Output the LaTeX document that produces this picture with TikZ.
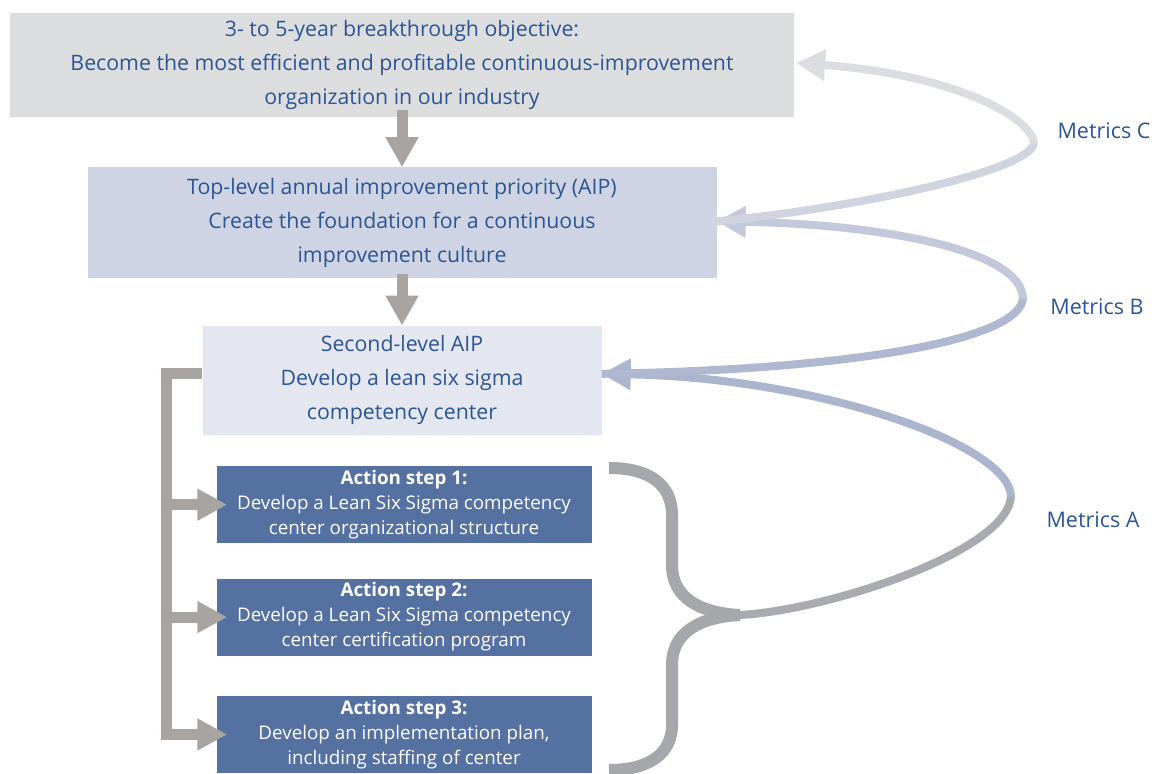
\documentclass[tikz,border=0pt]{standalone}
\usepackage{fontspec}
\setmainfont{Open Sans}
\usetikzlibrary{calc}
\usetikzlibrary{positioning}
\usetikzlibrary{arrows.meta}

\definecolor{txtblue}{HTML}{2B5593}
\definecolor{objfill}{HTML}{DCDDDF}
\definecolor{aipfill}{HTML}{CED4E4}
\definecolor{secfill}{HTML}{E4E7F0}
\definecolor{actfill}{HTML}{5471A1}
\definecolor{arrowgray}{HTML}{A7A4A1}
\definecolor{bracegray}{HTML}{A6A7AB}
\definecolor{mcup}{HTML}{DCDDE1}
\definecolor{mclow}{HTML}{D0D4DF}
\definecolor{mbup}{HTML}{C3C9DA}
\definecolor{mblow}{HTML}{AFB8D0}
\definecolor{maup}{HTML}{ABB5CE}
\definecolor{malow}{HTML}{A9ABB1}

\tikzset{every picture/.style={/utils/exec={\fontsize{21.3}{34}\selectfont}}}

\begin{document}
\begin{tikzpicture}[x=1pt, y=-1pt,
  levelbox/.style={inner sep=0pt, align=center, text=txtblue},
  actbox/.style={inner sep=0pt, align=center, text=white, fill=actfill,
    minimum width=375pt, minimum height=77pt, font=\fontsize{18.8}{25}\selectfont},
  downarrow/.style={line width=11pt, draw=arrowgray, -{Triangle[length=30pt,width=31pt]}},
  stemline/.style={line width=11pt, draw=arrowgray, line join=miter},
  metric/.style={line width=8pt},
  metrictip/.style={-{Triangle[length=29pt,width=30pt]}},
  metriclabel/.style={text=txtblue, font=\fontsize{21.5}{26}\selectfont}
  ]
  \useasboundingbox (0,0) rectangle (1157,774);

  % the three levels
  \node [levelbox, fill=objfill, minimum width=784pt, minimum height=104pt] (obj) at (402,65)
    {3- to 5-year breakthrough objective:\\ Become the most efficient and profitable continuous-improvement\\ organization in our industry};
  \node [levelbox, fill=aipfill, minimum width=629pt, minimum height=111pt, below=50pt of obj] (aip)
    {Top-level annual improvement priority (AIP)\\ Create the foundation for a continuous\\ improvement culture};
  \node [levelbox, fill=secfill, minimum width=399pt, minimum height=109pt, below=47pt of aip] (sec)
    {Second-level AIP\\ Develop a lean six sigma\\ competency center};

  % action steps
  \node [actbox, below=31pt of sec, xshift=2pt] (act1)
    {\textbf{Action step 1:}\\ Develop a Lean Six Sigma competency\\ center organizational structure};
  \node [actbox, below=35pt of act1] (act2)
    {\textbf{Action step 2:}\\ Develop a Lean Six Sigma competency\\ center certification program};
  \node [actbox, below=40pt of act2] (act3)
    {\textbf{Action step 3:}\\ Develop an implementation plan,\\ including staffing of center};

  \draw [downarrow] ([yshift=7pt]obj.south) -- (aip.north);
  \draw [downarrow] ([yshift=5pt]aip.south) -- (sec.north);

  % bracket from the second-level AIP to the steps
  \coordinate (secout) at ($(sec.west)+(0,-6.5)$);
  \draw [stemline, -{Triangle[length=30pt,width=30pt]}, shorten >=-11pt]
    (secout) -| ($(act3.west)+(-50,0)$) -- (act3.west);
  \foreach \i in {1,2}
    \draw [stemline, -{Triangle[length=30pt,width=30pt]}, shorten >=-11pt]
      ($(act\i.west)+(-50,0)$) -- (act\i.west);

  % brace round the steps
  \coordinate (bracetip) at (740,615);
  \draw [bracegray, line width=12pt]
    (609,468) .. controls (650,468) and (672,485) .. (672,515) -- (672,565)
    .. controls (672,598) and (700,613) .. (bracetip);
  \draw [bracegray, line width=12pt]
    (609,770) .. controls (650,770) and (672,753) .. (672,725) -- (672,665)
    .. controls (672,632) and (700,617) .. (bracetip);

  % metrics loops
  \coordinate (secin) at ($(sec.east)+(0,-6.5)$);
  \coordinate (aipin) at ($(aip.east)+(0,-1.5)$);
  \coordinate (objin) at ($(obj.east)+(2,-2)$);

  \draw [metric, malow] (bracetip) .. controls (830,610) and (1011,550) .. (1011,495);
  \draw [metric, maup, metrictip] (1011,497) .. controls (1011,445) and (820,378) .. (secin);

  \draw [metric, mblow] (secin) .. controls (850,370) and (1023,340) .. (1023,297);
  \draw [metric, mbup, metrictip] (1023,299) .. controls (1023,250) and (880,224) .. (aipin);

  \draw [metric, mclow] (aipin) .. controls (840,210) and (1034,172) .. (1034,142);
  \draw [metric, mcup, metrictip] (1034,144) .. controls (1034,120) and (960,75) .. (objin);

  \node [metriclabel] (lblc) at (1104,131) {Metrics C};
  \node [metriclabel] (lblb) at (1097,307) {Metrics B};
  \node [metriclabel] (lbla) at (1093,520) {Metrics A};
\end{tikzpicture}
\end{document}
